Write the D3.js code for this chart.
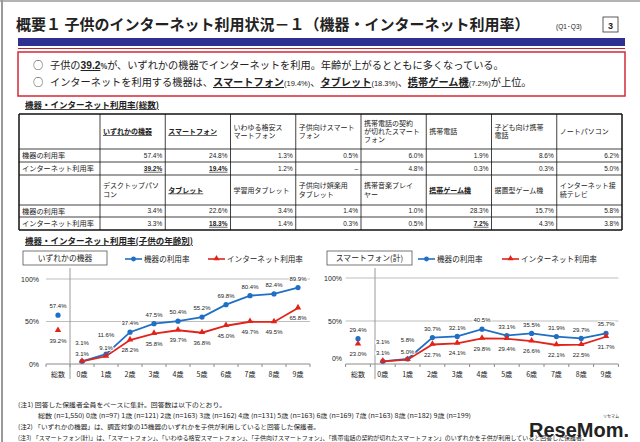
<!DOCTYPE html>
<html><head><meta charset="utf-8">
<script src="https://cdn.jsdelivr.net/npm/d3@7"></script>
<style>
body{margin:0;background:#fff}
svg{display:block}
text{font-family:"Noto Sans CJK JP","Noto Sans",sans-serif;fill:#222}
.num{font-family:"Liberation Sans",Arial,sans-serif}
</style>
</head><body>
<svg id="c" width="640" height="442"></svg>
<script>
// ---------------- DATA ----------------
const categories = ["総数","0歳","1歳","2歳","3歳","4歳","5歳","6歳","7歳","8歳","9歳"];
const anyDeviceUse   = [57.4,3.1,11.6,37.4,47.5,50.4,55.2,69.8,80.4,82.4,89.9];
const anyInternetUse = [39.2,3.1,9.1,28.2,35.8,39.7,36.8,45.0,49.7,49.5,65.8];
const smartDeviceUse   = [29.4,3.1,5.8,30.7,32.1,40.5,33.1,35.5,31.9,29.7,35.7];
const smartInternetUse = [23.0,3.1,5.0,22.7,24.1,29.8,29.4,26.6,22.1,22.5,31.7];
const yTicks = [0,50,100];
const seriesNames = ["機器の利用率","インターネット利用率"];

const tableHeader1 = [["いずれかの機器"],["スマートフォン"],["いわゆる格安ス","マートフォン"],["子供向けスマート","フォン"],["携帯電話の契約","が切れたスマート","フォン"],["携帯電話"],["子ども向け携帯","電話"],["ノートパソコン"]];
const tableHeader2 = [["デスクトップパソ","コン"],["タブレット"],["学習用タブレット"],["子供向け娯楽用","タブレット"],["携帯音楽プレイ","ヤー"],["携帯ゲーム機"],["据置型ゲーム機"],["インターネット接","続テレビ"]];
const header1Bold = [true,true,false,false,false,false,false,false];
const header2Bold = [false,true,false,false,false,true,false,false];
const rowLabels = ["機器の利用率","インターネット利用率"];
const deviceRate1   = ["57.4%","24.8%","1.3%","0.5%","6.0%","1.9%","8.6%","6.2%"];
const internetRate1 = ["39.2%","19.4%","1.2%","–","4.8%","0.3%","0.3%","5.0%"];
const deviceRate2   = ["3.4%","22.6%","3.4%","1.4%","1.0%","28.3%","15.7%","5.8%"];
const internetRate2 = ["3.3%","18.3%","1.4%","0.3%","0.5%","7.2%","4.3%","3.8%"];
const internetBold1 = [true,true,false,false,false,false,false,false];
const internetBold2 = [false,true,false,false,false,true,false,false];

// ---------------- DRAW ----------------
const svg = d3.select("#c");
svg.append("rect").attr("width",640).attr("height",442).attr("fill","#fff");
// slide frame
svg.append("line").attr("x1",2).attr("x2",2).attr("y1",0).attr("y2",442).attr("stroke","#9a9a9a").attr("stroke-width",2);
svg.append("line").attr("x1",0).attr("x2",640).attr("y1",1).attr("y2",1).attr("stroke","#9a9a9a").attr("stroke-width",1.5);

// Title
svg.append("text").attr("x",16).attr("y",30).attr("font-size",15).attr("font-weight","bold")
  .text("概要１ 子供のインターネット利用状況－１（機器・インターネット利用率）");
svg.append("text").attr("class","num").attr("x",556).attr("y",29).attr("font-size",6.5).text("(Q1･Q3)");
svg.append("rect").attr("x",603).attr("y",17).attr("width",15).attr("height",15).attr("fill","#fff").attr("stroke","#333").attr("stroke-width",0.8);
svg.append("text").attr("class","num").attr("x",610.5).attr("y",28.5).attr("text-anchor","middle").attr("font-size",9).attr("font-weight","bold").text("3");
svg.append("rect").attr("x",18).attr("y",38).attr("width",607).attr("height",8).attr("fill","#2e3192");
svg.append("line").attr("x1",18).attr("x2",625).attr("y1",48.5).attr("y2",48.5).attr("stroke","#b3262e").attr("stroke-width",1);

// Summary box
svg.append("rect").attr("x",18).attr("y",52).attr("width",607).attr("height",44).attr("fill","#fff").attr("stroke","#d22a38").attr("stroke-width",1.5);
const l1 = svg.append("text").attr("x",33).attr("y",69).attr("font-size",10.2);
l1.append("tspan").text("○ ");
l1.append("tspan").attr("x",50).text("子供の");
l1.append("tspan").attr("font-weight","bold").attr("text-decoration","underline").attr("class","num").attr("font-family","Liberation Sans").text("39.2");
l1.append("tspan").attr("font-size",7).attr("font-weight","bold").text("%");
l1.append("tspan").text("が、いずれかの機器でインターネットを利用。年齢が上がるとともに多くなっている。");
const l2 = svg.append("text").attr("x",33).attr("y",86).attr("font-size",10.2);
l2.append("tspan").text("○ ");
l2.append("tspan").attr("x",50).text("インターネットを利用する機器は、");
[["スマートフォン","(19.4%)"],["タブレット","(18.3%)"],["携帯ゲーム機","(7.2%)"]].forEach((p,i)=>{
  l2.append("tspan").attr("font-weight","bold").attr("text-decoration","underline").text(p[0]);
  l2.append("tspan").attr("font-size",7.5).attr("font-family","Liberation Sans Narrow, Liberation Sans").text(p[1]);
  l2.append("tspan").text(i<2?"、":"が上位。");
});

// Section title 1
svg.append("text").attr("x",25).attr("y",108).attr("font-size",8.5).attr("font-weight","bold").attr("text-decoration","underline")
  .text("機器・インターネット利用率(総数)");

// ---------------- TABLE ----------------
const tX0 = 19, tLabelW = 81, tX1 = 622;
const colScale = d3.scaleBand().domain(d3.range(8)).range([tX0+tLabelW, tX1]);
const rowEdges = [114,149,162,175,205,217,230];
const tbl = svg.append("g");
// grid lines
rowEdges.forEach((y,i)=>{
  tbl.append("line").attr("x1",tX0).attr("x2",tX1).attr("y1",y).attr("y2",y)
    .attr("stroke","#111").attr("stroke-width",(i===0||i===rowEdges.length-1)?1.5:0.8);
});
[tX0, ...d3.range(8).map(i=>colScale(i)), tX1].forEach((x,i,arr)=>{
  tbl.append("line").attr("x1",x).attr("x2",x).attr("y1",rowEdges[0]).attr("y2",rowEdges[6])
    .attr("stroke","#111").attr("stroke-width",(i===0||i===arr.length-1)?1.5:0.8);
});
function headerRow(hdrs, bolds, yTop, yBot){
  hdrs.forEach((lines,i)=>{
    const lh = 8.4;
    const cy = (yTop+yBot)/2 - (lines.length-1)*lh/2;
    lines.forEach((s,j)=>{
      tbl.append("text").attr("x",colScale(i)+3).attr("y",cy+j*lh).attr("dy","0.36em")
        .attr("font-size",7).attr("font-weight",bolds[i]?"bold":"normal")
        .attr("text-decoration",bolds[i]?"underline":"none").text(s);
    });
  });
}
function valueRow(label, vals, bolds, yTop, yBot){
  const cy=(yTop+yBot)/2;
  tbl.append("text").attr("x",tX0+3).attr("y",cy).attr("dy","0.36em").attr("font-size",7.2).text(label);
  vals.forEach((v,i)=>{
    tbl.append("text").attr("class","num").attr("x",colScale(i)+colScale.bandwidth()-3).attr("y",cy).attr("dy","0.36em")
      .attr("text-anchor","end").attr("font-size",6.5)
      .attr("font-weight",bolds&&bolds[i]?"bold":"normal")
      .attr("text-decoration",bolds&&bolds[i]?"underline":"none").text(v);
  });
}
headerRow(tableHeader1, header1Bold, rowEdges[0], rowEdges[1]);
valueRow(rowLabels[0], deviceRate1, null, rowEdges[1], rowEdges[2]);
valueRow(rowLabels[1], internetRate1, internetBold1, rowEdges[2], rowEdges[3]);
headerRow(tableHeader2, header2Bold, rowEdges[3], rowEdges[4]);
valueRow(rowLabels[0], deviceRate2, null, rowEdges[4], rowEdges[5]);
valueRow(rowLabels[1], internetRate2, internetBold2, rowEdges[5], rowEdges[6]);

// Section title 2
svg.append("text").attr("x",25).attr("y",244).attr("font-size",8.5).attr("font-weight","bold").attr("text-decoration","underline")
  .text("機器・インターネット利用率(子供の年齢別)");

// ---------------- CHARTS ----------------
const BLUE="#1f6fc5", RED="#e2231a";
function drawChart(cfg){
  const g = svg.append("g");
  const x = d3.scalePoint().domain(categories).range([cfg.x0, cfg.x1]);
  const step = x.step();
  const y = d3.scaleLinear().domain([0,100]).range([364, cfg.yTop]);
  const gl = cfg.x0 - step/2, gr = cfg.x1 + step/2;
  // gridlines
  yTicks.forEach(t=>{
    g.append("line").attr("x1",gl).attr("x2",gr).attr("y1",y(t)).attr("y2",y(t))
      .attr("stroke", t===0?"#8c8c8c":"#bdbdbd").attr("stroke-width",1);
    g.append("text").attr("class","num").attr("x",cfg.yLabX).attr("y",y(t)+(t===0?cfg.zeroDy:0)).attr("dy","0.36em")
      .attr("text-anchor","end").attr("font-size",7).text(t+"%");
  });
  // category tick marks
  d3.range(categories.length+1).forEach(i=>{
    const tx = gl + i*step;
    g.append("line").attr("x1",tx).attr("x2",tx).attr("y1",364).attr("y2",367).attr("stroke","#8c8c8c");
  });
  // separator
  g.append("line").attr("x1",cfg.sepX).attr("x2",cfg.sepX).attr("y1",268).attr("y2",379).attr("stroke","#9a9a9a");
  // category labels
  categories.forEach(c=>{
    g.append("text").attr("x",x(c)).attr("y",374).attr("dy","0.36em").attr("text-anchor","middle").attr("font-size",7).text(c);
  });
  // title box
  g.append("rect").attr("x",cfg.box[0]).attr("y",251).attr("width",cfg.box[1]).attr("height",14)
    .attr("fill","#fff").attr("stroke","#555").attr("stroke-width",0.8);
  g.append("text").attr("x",cfg.box[0]+cfg.box[1]/2).attr("y",258).attr("dy","0.36em").attr("text-anchor","middle")
    .attr("font-size",7.8).text(cfg.title);
  // legend
  const lg = (lx, color, shape, name)=>{
    g.append("line").attr("x1",lx).attr("x2",lx+17).attr("y1",259).attr("y2",259).attr("stroke",color).attr("stroke-width",1.6);
    if(shape==="c") g.append("circle").attr("cx",lx+8.5).attr("cy",259).attr("r",2.4).attr("fill",color);
    else g.append("path").attr("d",d3.symbol(d3.symbolTriangle,16)()).attr("transform",`translate(${lx+8.5},258.6)`).attr("fill",color);
    g.append("text").attr("x",lx+19).attr("y",259).attr("dy","0.36em").attr("font-size",7.6).text(name);
  };
  lg(cfg.leg[0], BLUE, "c", seriesNames[0]);
  lg(cfg.leg[1], RED, "t", seriesNames[1]);

  const ages = categories.slice(1);
  const line = d3.line().x(d=>d[0]).y(d=>d[1]);
  const blue = ages.map((c,i)=>[x(c), y(cfg.dev[i+1])]);
  const red  = ages.map((c,i)=>[x(c), y(cfg.net[i+1])]);
  g.append("path").attr("d",line(blue)).attr("fill","none").attr("stroke",BLUE).attr("stroke-width",1.8);
  g.append("path").attr("d",line(red)).attr("fill","none").attr("stroke",RED).attr("stroke-width",1.8);
  // markers (including total)
  categories.forEach((c,i)=>{
    g.append("circle").attr("cx",x(c)).attr("cy",y(cfg.dev[i])).attr("r",2.6).attr("fill",BLUE);
    g.append("path").attr("d",d3.symbol(d3.symbolTriangle,18)()).attr("transform",`translate(${x(c)},${y(cfg.net[i])-0.5})`).attr("fill",RED);
  });
  // labels
  const lab = (px,py,v)=> g.append("text").attr("class","num").attr("x",px).attr("y",py).attr("dy","0.36em")
      .attr("text-anchor","middle").attr("font-size",6).attr("fill","#333")
      .attr("stroke","#fff").attr("stroke-width",2.2).attr("paint-order","stroke").text(v.toFixed(1)+"%");
  categories.forEach((c,i)=>{
    const early = (i===1||i===2);
    const by = y(cfg.dev[i]) + (early ? -19 : -9);
    const ry = y(cfg.net[i]) + (early ? -8 : 10);
    lab(x(c), by, cfg.dev[i]);
    lab(x(c), ry, cfg.net[i]);
  });
}
drawChart({x0:58, x1:298, yTop:279, yLabX:39, zeroDy:0, sepX:70, box:[23,84], title:"いずれかの機器", leg:[125,208], dev:anyDeviceUse, net:anyInternetUse});
drawChart({x0:358, x1:606, yTop:278, yLabX:342, zeroDy:-6, sepX:375, box:[327,85], title:"スマートフォン(計)", leg:[418,502], dev:smartDeviceUse, net:smartInternetUse});

// ---------------- FOOTNOTES ----------------
const fn = [
  [18,405,208,"(注1) 回答した保護者全員をベースに集計。回答数は以下のとおり。"],
  [38,416,433,"総数 (n=1,550)  0歳 (n=97)  1歳 (n=121)  2歳 (n=163)  3歳 (n=162)  4歳 (n=131)  5歳 (n=163)  6歳 (n=169)  7歳 (n=163)  8歳 (n=182)  9歳 (n=199)"],
  [18,427,302,"(注2) 「いずれかの機器」は、調査対象の15機器のいずれかを子供が利用していると回答した保護者。"],
  [18,438,570,"(注3) 「スマートフォン(計)」は、「スマートフォン」、「いわゆる格安スマートフォン」、「子供向けスマートフォン」、「携帯電話の契約が切れたスマートフォン」のいずれかを子供が利用していると回答した保護者。"]
];
fn.forEach(f=>{
  svg.append("text").attr("x",f[0]).attr("y",f[1]).attr("dy","0.36em").attr("font-size",6.2)
    .attr("textLength",f[2]).attr("lengthAdjust","spacingAndGlyphs").text(f[3]);
});
// Logo
svg.append("text").attr("x",603).attr("y",418).attr("font-size",4).attr("fill","#999").text("リセマム");
svg.append("text").attr("x",529).attr("y",437).attr("font-family","Liberation Sans, Arial").attr("font-weight","bold")
  .attr("font-size",21).attr("fill","#9a9a9a").attr("textLength",100).attr("lengthAdjust","spacingAndGlyphs")
  .style("font-family","Liberation Sans, Arial").text("ReseMom.");
</script>
</body></html>
